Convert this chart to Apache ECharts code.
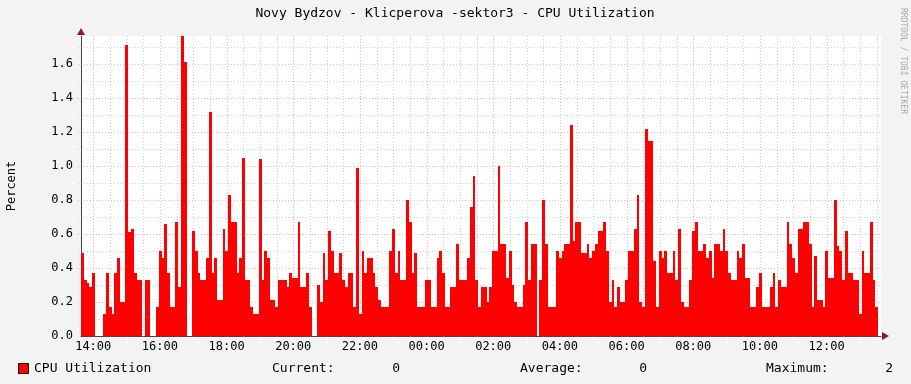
<!DOCTYPE html>
<html><head><meta charset="utf-8">
<script src="https://cdn.jsdelivr.net/npm/echarts@6/dist/echarts.min.js"></script>
<style>html,body{margin:0;padding:0;background:#f3f3f3;}#c{width:911px;height:384px;}</style>
</head><body><div id="c"></div>
<script>
const titleText = 'Novy Bydzov - Klicperova -sektor3 - CPU Utilization';
const yAxisTitle = 'Percent';
const seriesName = 'CPU Utilization';
const watermark = 'RRDTOOL / TOBI OETIKER';
// time in minutes relative to 14:00; each sample covers 5 minutes
const startMinute = -22;
const stepMinutes = 5;
const cpuValues = [
  0.49,0.33,0.31,0.29,0.37,null,null,null,0.13,0.37,0.17,0.13,0.37,0.46,0.2,0.2,1.71,0.61,0.63,0.37,0.33,0.33,null,0.33,
  0.33,null,null,0.17,0.5,0.46,0.66,0.37,0.17,0.17,0.67,0.29,1.77,1.61,null,null,0.62,0.5,0.37,0.33,0.33,0.46,1.32,0.37,
  0.46,0.21,0.21,0.63,0.5,0.83,0.67,0.67,0.37,0.46,1.05,0.33,0.33,0.17,0.13,0.13,1.04,0.33,0.5,0.46,0.21,0.21,0.17,0.33,
  0.33,0.33,0.29,0.37,0.34,0.34,0.67,0.29,0.29,0.37,0.17,null,null,0.3,0.2,0.49,0.33,0.62,0.5,0.37,0.37,0.49,0.33,0.29,
  0.37,0.37,0.17,0.99,0.13,0.5,0.37,0.46,0.46,0.37,0.29,0.21,0.17,0.17,0.17,0.5,0.63,0.37,0.5,0.33,0.33,0.8,0.67,0.37,
  0.49,0.17,0.17,0.17,0.33,0.33,0.17,0.17,0.46,0.5,0.37,0.17,0.17,0.29,0.29,0.54,0.33,0.33,0.33,0.46,0.76,0.94,0.33,0.17,
  0.29,0.29,0.2,0.29,0.5,0.5,1.0,0.54,0.54,0.34,0.5,0.3,0.2,0.17,0.17,0.3,0.67,0.33,0.54,0.54,null,0.33,0.8,0.54,
  0.17,0.17,0.17,0.5,0.46,0.5,0.54,0.54,1.24,0.56,0.67,0.67,0.49,0.49,0.54,0.46,0.5,0.54,0.62,0.62,0.67,0.5,0.2,0.33,
  0.17,0.29,0.2,0.2,0.33,0.5,0.5,0.63,0.83,0.2,0.17,1.22,1.15,1.15,0.44,0.17,0.5,0.46,0.5,0.37,0.37,0.5,0.33,0.63,
  0.2,0.17,0.17,0.33,0.62,0.67,0.5,0.5,0.54,0.46,0.5,0.34,0.54,0.54,0.5,0.63,0.5,0.37,0.33,0.33,0.5,0.46,0.54,0.34,
  0.34,0.17,0.17,0.29,0.37,0.17,0.17,0.17,0.29,0.37,0.17,0.33,0.29,0.29,0.67,0.54,0.46,0.37,0.63,0.63,0.67,0.67,0.54,0.17,
  0.47,0.21,0.21,0.17,0.5,0.34,0.34,0.8,0.53,0.5,0.33,0.62,0.37,0.37,0.33,0.33,0.13,0.5,0.37,0.37,0.67,0.33,0.17,null
];
const xLabelMinutes = [0,120,240,360,480,600,720,840,960,1080,1200,1320];
const xLabelTexts = ['14:00','16:00','18:00','20:00','22:00','00:00','02:00','04:00','06:00','08:00','10:00','12:00'];
const yMax = 1.765;
const statCurrent = '0';
const statAverage = '0';
const statMaximum = '2';

const mono = '"DejaVu Sans Mono", monospace';
const endMinute = startMinute + stepMinutes * cpuValues.length;

const data = [];
cpuValues.forEach((v, i) => {
  if (v !== null) data.push([startMinute + i * stepMinutes, startMinute + (i + 1) * stepMinutes, v]);
});

// grid lines: [orientation (0 = vertical, 1 = horizontal), position, major?]
const gridData = [];
for (let m = 0; m < endMinute; m += 30) gridData.push([0, m, m % 120 === 0 ? 1 : 0]);
for (let k = 1; k * 0.1 < yMax; k++) gridData.push([1, +(k * 0.1).toFixed(1), k % 2 === 0 ? 1 : 0]);
const minorCol = 'rgba(150,150,150,0.45)';
const majorCol = 'rgba(230,80,80,0.45)';

const chart = echarts.init(document.getElementById('c'), null, {renderer: 'canvas'});
chart.setOption({
  animation: false,
  backgroundColor: '#f3f3f3',
  grid: {left: 81, right: 30, top: 36, bottom: 48, show: true, backgroundColor: '#ffffff', borderWidth: 0},
  xAxis: {
    type: 'value', min: startMinute, max: endMinute,
    axisLine: {show: true, onZero: false, lineStyle: {color: '#444', width: 1}},
    axisTick: {show: false},
    splitLine: {show: false},
    axisLabel: {
      customValues: xLabelMinutes,
      formatter: v => xLabelTexts[xLabelMinutes.indexOf(Math.round(v))] || '',
      color: '#000', fontFamily: mono, fontSize: 12, margin: 5
    }
  },
  yAxis: {
    type: 'value', min: 0, max: yMax, interval: 0.2,
    axisLine: {show: true, onZero: false, lineStyle: {color: '#444', width: 1}},
    axisTick: {show: false},
    splitLine: {show: false},
    axisLabel: {showMaxLabel: false, formatter: v => v.toFixed(1), color: '#000', fontFamily: mono, fontSize: 12, margin: 8}
  },
  series: [
    {
      type: 'custom', z: 1, silent: true, clip: false,
      encode: {x: -1, y: -1},
      data: gridData,
      renderItem: function (params, api) {
        const cs = params.coordSys;
        const o = api.value(0), pos = api.value(1), major = api.value(2);
        const col = major ? majorCol : minorCol;
        let shape;
        if (o === 0) {
          const x = Math.round(api.coord([pos, 0])[0]) + 0.5;
          shape = {x1: x, y1: cs.y, x2: x, y2: cs.y + cs.height + 3};
        } else {
          const y = Math.round(api.coord([startMinute, pos])[1]) + 0.5;
          shape = {x1: cs.x - 3, y1: y, x2: cs.x + cs.width, y2: y};
        }
        return {type: 'line', shape: shape, style: {stroke: col, lineWidth: 1, lineDash: [1, 2]}};
      }
    },
    {
      name: seriesName, type: 'custom', z: 10, clip: true,
      encode: {x: [0, 1], y: 2},
      data: data,
      renderItem: function (params, api) {
        const p0 = api.coord([api.value(0), api.value(2)]);
        const p1 = api.coord([api.value(1), 0]);
        const x0 = Math.round(p0[0]), x1 = Math.round(p1[0]);
        const y0 = Math.round(p0[1]), y1 = Math.round(p1[1]);
        return {
          type: 'rect',
          shape: {x: x0, y: y0, width: x1 - x0, height: y1 - y0},
          style: {fill: '#ff0000'}
        };
      }
    }
  ],
  graphic: [
    {type: 'text', x: 455, y: 14, style: {text: titleText, font: '13px ' + mono, fill: '#000', textAlign: 'center', textVerticalAlign: 'middle'}},
    {type: 'text', x: 12, y: 186, rotation: Math.PI / 2, style: {text: yAxisTitle, font: '12px ' + mono, fill: '#000', textAlign: 'center', textVerticalAlign: 'middle'}},
    {type: 'text', x: 903, y: 61, rotation: -Math.PI / 2, style: {text: watermark, font: '8px ' + mono, fill: '#aaaaaa', textAlign: 'center', textVerticalAlign: 'middle'}},
    {type: 'polygon', z: 20, shape: {points: [[889, 336], [882, 332], [882, 340]]}, style: {fill: '#8b1a1a'}},
    {type: 'polygon', z: 20, shape: {points: [[81, 28], [77, 35], [85, 35]]}, style: {fill: '#8b1a1a'}},
    {type: 'rect', shape: {x: 18.5, y: 363.5, width: 10, height: 10}, style: {fill: '#ff0000', stroke: '#000', lineWidth: 1}},
    {type: 'text', x: 34, y: 369, style: {text: seriesName, font: '13px ' + mono, fill: '#000', textVerticalAlign: 'middle'}},
    {type: 'text', x: 272, y: 369, style: {text: 'Current:', font: '13px ' + mono, fill: '#000', textVerticalAlign: 'middle'}},
    {type: 'text', x: 400, y: 369, style: {text: statCurrent, font: '13px ' + mono, fill: '#000', textAlign: 'right', textVerticalAlign: 'middle'}},
    {type: 'text', x: 520, y: 369, style: {text: 'Average:', font: '13px ' + mono, fill: '#000', textVerticalAlign: 'middle'}},
    {type: 'text', x: 647, y: 369, style: {text: statAverage, font: '13px ' + mono, fill: '#000', textAlign: 'right', textVerticalAlign: 'middle'}},
    {type: 'text', x: 766, y: 369, style: {text: 'Maximum:', font: '13px ' + mono, fill: '#000', textVerticalAlign: 'middle'}},
    {type: 'text', x: 893, y: 369, style: {text: statMaximum, font: '13px ' + mono, fill: '#000', textAlign: 'right', textVerticalAlign: 'middle'}}
  ]
});
</script></body></html>
